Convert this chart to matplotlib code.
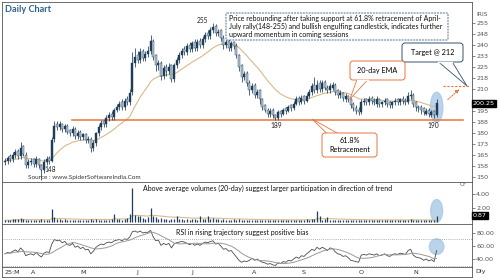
import numpy as np
import pandas as pd
import matplotlib
matplotlib.use("Agg")
import matplotlib.pyplot as plt
from matplotlib.patches import Ellipse, FancyBboxPatch, Polygon
from matplotlib.transforms import blended_transform_factory

# daily OHLC (Mar-Nov 2025)
opens = [160, 161, 164, 162, 165, 168, 164, 171, 165, 158,
         160, 162, 159, 162, 158, 155, 160, 163, 161, 176,
         186, 184, 186, 183, 185, 182, 180, 183, 178, 181,
         177, 179, 175, 176, 170, 173, 180, 184, 188, 186,
         190, 193, 191, 196, 198, 201, 198, 203, 201, 208,
         228, 233, 230, 236, 231, 234, 236, 243, 233, 226,
         228, 219, 225, 222, 226, 217, 226, 230, 233, 237,
         235, 240, 237, 242, 238, 243, 240, 244, 248, 246,
         250, 253, 248, 250, 245, 240, 243, 238, 242, 239,
         233, 226, 218, 221, 214, 209, 213, 206, 209, 203,
         199, 196, 193, 196, 192, 190, 195, 193, 197, 195,
         199, 197, 200, 204, 201, 205, 202, 205, 208, 213,
         209, 214, 210, 215, 211, 209, 211, 213, 209, 206,
         207, 203, 205, 203, 200, 197, 196, 194, 201, 203,
         201, 204, 202, 200, 203, 200, 201, 203, 201, 199,
         201, 203, 201, 203, 202, 201, 205, 206, 201, 198,
         198, 197, 193, 196, 192, 195, 192]
highs = [163, 164, 166, 167, 169, 169, 174, 172, 167, 162,
         163, 163, 164, 163, 159, 162, 164, 164, 177, 188,
         188, 188, 187, 186, 186, 183, 185, 184, 182, 182,
         180, 180, 178, 177, 175, 181, 186, 189, 189, 192,
         194, 195, 197, 200, 202, 203, 204, 205, 210, 235,
         238, 236, 238, 237, 236, 239, 247, 244, 234, 230,
         229, 226, 227, 228, 227, 228, 232, 235, 238, 239,
         241, 242, 243, 244, 244, 245, 246, 249, 250, 252,
         255, 254, 251, 251, 247, 244, 244, 243, 243, 241,
         234, 227, 222, 222, 216, 214, 214, 210, 210, 204,
         200, 197, 197, 197, 193, 196, 196, 197, 198, 199,
         200, 202, 205, 205, 206, 206, 207, 210, 214, 218,
         216, 216, 216, 216, 213, 214, 215, 214, 210, 209,
         208, 207, 206, 204, 201, 199, 198, 203, 204, 204,
         205, 205, 204, 205, 204, 202, 204, 204, 202, 202,
         204, 204, 204, 205, 204, 208, 209, 207, 202, 199,
         199, 198, 197, 197, 196, 196, 203]
lows = [158, 159, 160, 160, 163, 162, 162, 164, 156, 156,
        158, 157, 157, 156, 148, 153, 158, 159, 160, 174,
        182, 182, 181, 181, 179, 178, 178, 176, 176, 175,
        175, 173, 173, 167, 168, 171, 178, 182, 184, 184,
        188, 189, 189, 194, 196, 196, 196, 199, 199, 206,
        225, 228, 228, 229, 229, 232, 234, 230, 222, 223,
        216, 217, 219, 220, 215, 215, 224, 228, 231, 233,
        233, 235, 235, 236, 236, 238, 238, 242, 244, 244,
        248, 246, 246, 243, 237, 238, 236, 236, 237, 231,
        222, 215, 216, 212, 206, 207, 204, 204, 200, 196,
        194, 191, 191, 190, 189, 189, 191, 192, 193, 194,
        195, 196, 199, 199, 200, 200, 201, 204, 206, 207,
        207, 208, 208, 209, 207, 207, 209, 206, 204, 204,
        202, 201, 201, 197, 195, 193, 192, 193, 199, 199,
        199, 200, 199, 198, 198, 198, 199, 198, 197, 197,
        199, 199, 199, 200, 199, 200, 203, 198, 195, 194,
        193, 192, 192, 191, 191, 190.5, 191]
closes = [161, 163, 162, 165, 167, 164, 170, 166, 158, 160,
          161, 159, 162, 158, 155, 160, 162, 161, 175, 185,
          184, 186, 183, 185, 181, 180, 183, 178, 180, 177,
          179, 175, 176, 170, 173, 180, 184, 187, 186, 190,
          192, 191, 196, 198, 200, 198, 202, 201, 207, 228,
          232, 230, 235, 231, 234, 236, 243, 232, 226, 228,
          219, 224, 222, 225, 217, 226, 230, 233, 236, 235,
          239, 237, 241, 238, 242, 240, 244, 247, 246, 250,
          252, 248, 249, 245, 240, 242, 238, 241, 239, 233,
          225, 218, 220, 214, 209, 212, 206, 208, 203, 198,
          196, 193, 195, 192, 190, 194, 193, 196, 195, 198,
          197, 200, 203, 201, 204, 202, 205, 208, 212, 209,
          213, 210, 214, 211, 209, 212, 213, 208, 206, 207,
          204, 205, 203, 199, 197, 195, 194, 201, 202, 201,
          203, 202, 201, 203, 200, 201, 202, 200, 199, 201,
          202, 201, 203, 202, 201, 205, 206, 200, 198, 197,
          196, 194, 195, 193, 194, 192, 200.25]
# volume in crore shares
volumes = [0.25, 0.3, 0.35, 0.45, 0.5, 0.4, 0.6, 0.45, 0.3, 0.25,
           0.3, 0.25, 0.3, 0.35, 0.4, 0.3, 0.35, 0.3, 1.9, 0.7,
           0.5, 0.45, 0.35, 0.4, 0.3, 0.25, 0.3, 0.35, 0.3, 0.25,
           0.3, 0.25, 0.3, 0.45, 0.35, 0.4, 0.3, 0.35, 0.3, 0.3,
           0.35, 0.4, 1.2, 0.45, 0.4, 0.35, 0.5, 0.6, 1.2, 4.8,
           1.0, 0.9, 0.8, 0.6, 0.5, 0.7, 2.0, 0.9, 0.7, 0.5,
           0.6, 0.45, 0.4, 0.35, 0.5, 0.4, 0.9, 0.5, 0.4, 0.35,
           0.4, 0.35, 0.45, 0.4, 0.35, 0.8, 0.5, 0.4, 0.85, 0.45,
           0.6, 0.5, 0.4, 0.35, 0.45, 0.3, 0.35, 0.3, 0.4, 0.35,
           0.45, 0.35, 0.3, 0.3, 0.25, 0.3, 0.25, 0.3, 0.35, 0.3,
           0.25, 0.3, 0.25, 0.3, 0.35, 0.3, 0.3, 0.25, 0.3, 0.3,
           0.35, 0.3, 0.25, 0.3, 0.35, 0.3, 0.4, 0.35, 0.4, 0.45,
           1.5, 0.8, 0.35, 0.4, 0.65, 0.35, 0.3, 0.3, 0.25, 0.3,
           0.25, 0.3, 0.25, 0.3, 0.25, 0.3, 0.3, 0.25, 0.3, 0.25,
           0.3, 0.25, 0.3, 0.25, 0.25, 0.3, 0.25, 0.3, 0.25, 0.3,
           0.25, 0.3, 0.3, 0.25, 0.3, 0.35, 0.5, 0.3, 0.25, 0.3,
           0.25, 0.3, 0.25, 0.25, 0.3, 0.25, 0.87]
rsi = [48, 50, 49, 52, 54, 51, 57, 53, 45, 47,
       48, 46, 50, 46, 43, 49, 51, 50, 63, 70,
       68, 69, 65, 67, 62, 61, 64, 58, 60, 56,
       58, 54, 55, 48, 52, 58, 61, 63, 62, 65,
       66, 65, 68, 69, 70, 68, 71, 70, 74, 82,
       83, 81, 83, 80, 81, 81, 84, 74, 68, 69,
       61, 64, 62, 64, 57, 63, 65, 66, 67, 66,
       64, 62, 64, 61, 63, 61, 64, 66, 65, 67,
       68, 63, 64, 60, 55, 56, 52, 53, 48, 43,
       38, 35, 37, 36, 38, 41, 38, 40, 37, 35,
       34, 32, 33, 31, 30, 34, 33, 36, 35, 38,
       37, 40, 43, 41, 45, 44, 48, 51, 55, 53,
       58, 55, 58, 56, 53, 57, 56, 51, 48, 47,
       44, 45, 42, 38, 37, 36, 35, 46, 47, 46,
       48, 47, 46, 48, 45, 46, 48, 45, 44, 47,
       48, 47, 49, 48, 47, 53, 55, 46, 43, 42,
       41, 38, 40, 37, 39, 36, 53]

month_labels = ["25:M", "A", "M", "J", "J", "A", "S", "O", "N"]
month_pos = [0, 11, 30, 51, 72, 96, 115, 137, 158]
price_ticks = [150, 157.5, 165, 172.5, 180, 187.5, 195, 210, 217.5,
               225, 232.5, 240, 247.5, 255]
price_tick_labels = ["150", "158", "165", "173", "180", "188", "195",
                     "210", "218", "225", "233", "240", "248", "255"]
retracement = 189
target = 212
last_price = 200.25

df = pd.DataFrame({"o": opens, "h": highs, "l": lows, "c": closes,
                   "v": volumes, "rsi": rsi})
df["ema"] = df["c"].ewm(span=20, adjust=False).mean()
df["vavg"] = df["v"].ewm(span=20, adjust=False).mean()
df["rsi_avg"] = df["rsi"].rolling(9, min_periods=1).mean()
idx = np.arange(len(df))

NAVY = "#1d3d58"
ORANGE = "#e8743b"
TAN = "#d9b98c"
FONT = "Lato"

fig = plt.figure(figsize=(5, 2.8), dpi=100)
xl = (-1.15, 179.6)

ax = fig.add_axes([0.004, 0.35, 0.94, 0.643])
axv = fig.add_axes([0.004, 0.2, 0.94, 0.15])
axr = fig.add_axes([0.004, 0.0464, 0.94, 0.1536])
axd = fig.add_axes([0.004, 0.0107, 0.94, 0.0357])

for a in (ax, axv, axr, axd):
    a.set_xlim(*xl)
    a.set_xticks([])
    for s in a.spines.values():
        s.set_color("#555555")
        s.set_linewidth(0.6)
    a.yaxis.tick_right()
    a.tick_params(axis="y", length=2, width=0.5, pad=1, labelsize=4.6,
                  colors="#555555")

# candles
up = (df["c"] >= df["o"]).values
ax.vlines(idx, df["l"], df["h"], color=NAVY, lw=0.55, zorder=3)
body = (df["c"] - df["o"]).abs().clip(lower=0.4).values
lo = np.minimum(df["o"].values, df["c"].values)
ax.bar(idx[up], body[up], bottom=lo[up], width=0.75, color=NAVY,
       edgecolor=NAVY, lw=0.3, zorder=4)
ax.bar(idx[~up], body[~up], bottom=lo[~up], width=0.75, color="#b9c6d2",
       edgecolor=NAVY, lw=0.3, zorder=4)
ax.plot(idx, df["ema"], color=TAN, lw=0.8, zorder=2)
ax.set_ylim(146.6, 269.3)
ax.set_yticks(price_ticks)
ax.set_yticklabels(price_tick_labels)

# support / target lines
ax.plot([25.8, 176], [retracement, retracement], color=ORANGE, lw=1.1, zorder=2)
ax.plot([168.5, 178.8], [target, target], color=ORANGE, lw=0.8, ls=(0, (2, 1.5)))
ax.annotate("", xy=(175.5, 211), xytext=(169.5, 201.5),
            arrowprops=dict(arrowstyle="-|>", color=ORANGE, lw=0.7,
                            ls=(0, (1.5, 1.2)), mutation_scale=5))
ax.add_patch(Ellipse((166, 197.5), 4.8, 20.5, color="#a9c9e6", alpha=0.8,
                     zorder=1))

for x, y, s in [(76, 256.5, "255"), (104.5, 185.3, "189"),
                (164.6, 185.3, "190"), (17.5, 155.2, "148")]:
    ax.text(x, y, s, fontsize=4.8, ha="center", va="center", color="#222222",
            family=FONT)

bt = blended_transform_factory(ax.transAxes, ax.transData)
ax.text(1.002, last_price, "200.25", transform=bt, fontsize=4.6, color="white",
        va="center", ha="left",
        bbox=dict(boxstyle="square,pad=0.15", fc="black", ec="black"))

# volume
axv.vlines(idx, 0, df["v"], color=NAVY, lw=0.9, zorder=3)
axv.plot(idx, df["vavg"], color=TAN, lw=0.8, zorder=2)
axv.add_patch(Ellipse((166, 1.6), 4.6, 3.2, color="#a9c9e6", alpha=0.8,
                      zorder=1))
axv.set_ylim(-0.28, 5.7)
axv.set_yticks([2, 4])
axv.set_yticklabels(["2.00", "4.00"])
btv = blended_transform_factory(axv.transAxes, axv.transData)
axv.text(1.002, df["v"].iloc[-1], "0.87", transform=btv, fontsize=4.6,
         color="white", va="center", ha="left",
         bbox=dict(boxstyle="square,pad=0.15", fc="black", ec="black"))

# RSI
axr.plot(idx, df["rsi"], color="#4a4a4a", lw=0.6)
axr.plot(idx, df["rsi_avg"], color="#9a9a9a", lw=0.7)
for lvl in (70, 30):
    axr.axhline(lvl, color="#999999", lw=0.6, ls=(0, (1, 1.5)))
axr.add_patch(Ellipse((166, 59), 5.6, 24, color="#a9c9e6", alpha=0.8,
                      zorder=0))
axr.set_ylim(27.7, 93.8)
axr.set_yticks([40, 60, 80])
axr.set_yticklabels(["40.00", "60.00", "80.00"])

# date strip
axd.set_yticks([])
axd.set_ylim(0, 1)
for p, s in zip(month_pos, month_labels):
    axd.text(p, 0.5, s, fontsize=4.6, ha="left" if p == 0 else "center",
             va="center", color="#333333")

# annotations in figure pixel coords
ov = fig.add_axes([0, 0, 1, 1], zorder=10)
ov.set_xlim(0, 500)
ov.set_ylim(280, 0)
ov.axis("off")
ov.patch.set_alpha(0)

ov.text(5, 10, "Daily Chart", fontsize=6.6, color="#2f6190", family=FONT,
        fontweight="bold", va="center")
ov.text(482, 15, "IRIS", fontsize=4.3, color="#555555", ha="center",
        va="center")
ov.text(463, 185, "Cr", fontsize=4.3, color="#555555", ha="center",
        va="center")
ov.text(481, 272, "Dly", fontsize=4.6, color="#333333", ha="center",
        va="center")
ov.text(28, 177, "Source : www.SpiderSoftwareIndia.Com", fontsize=4.6,
        color="#333333", va="center", family=FONT)
ov.text(143, 188, "Above average volumes (20-day) suggest larger participation "
        "in direction of trend", fontsize=5.0, color="#111111", va="center",
        family=FONT)
ov.text(176, 232, "RSI in rising trajectory suggest positive bias",
        fontsize=5.0, color="#111111", va="center", family=FONT)


def callout(x0, y0, x1, y1, tail, ec, ls="-"):
    ov.add_patch(Polygon(tail, closed=True, fc="white", ec=ec, lw=0.6,
                         zorder=1))
    ov.add_patch(FancyBboxPatch((x0, y0), x1 - x0, y1 - y0,
                                boxstyle="round,pad=0,rounding_size=3",
                                fc="white", ec=ec, lw=0.7, ls=ls, zorder=2))
    # hide the tail base under the box
    ov.plot([tail[0][0], tail[-1][0]], [tail[0][1], tail[-1][1]],
            color="white", lw=1.0, zorder=3)


ov.add_patch(FancyBboxPatch((226, 13), 222, 27,
                            boxstyle="round,pad=0,rounding_size=1",
                            fc="white", ec="#4d6f8f", lw=0.7,
                            ls=(0, (2, 1)), zorder=2))
ov.text(229, 26.5, "Price rebounding after taking support at 61.8% retracement "
        "of April-\nJuly rally(148-255) and bullish engulfing candlestick, "
        "indicates further\nupward momentum in coming sessions",
        fontsize=5.0, linespacing=1.15, va="center", color="#111111",
        family=FONT, zorder=3)

callout(402, 43, 463, 62, [(438, 61.5), (467, 86), (452, 61.5)], "#36516b")
ov.text(432.5, 52.5, "Target @ 212", fontsize=5.2, ha="center", va="center",
        family=FONT, zorder=4)

callout(350, 61, 405, 80, [(357, 79.5), (350, 99), (368, 79.5)], ORANGE)
ov.text(377.5, 70.5, "20-day EMA", fontsize=5.2, ha="center", va="center",
        family=FONT, zorder=4)

callout(322, 133, 377, 157, [(327, 133.5), (312, 119), (338, 133.5)], ORANGE)
ov.text(349.5, 145, "61.8%\nRetracement", fontsize=5.2, ha="center",
        va="center", family=FONT, linespacing=1.3, zorder=4)

fig.savefig("out.png", dpi=100)
